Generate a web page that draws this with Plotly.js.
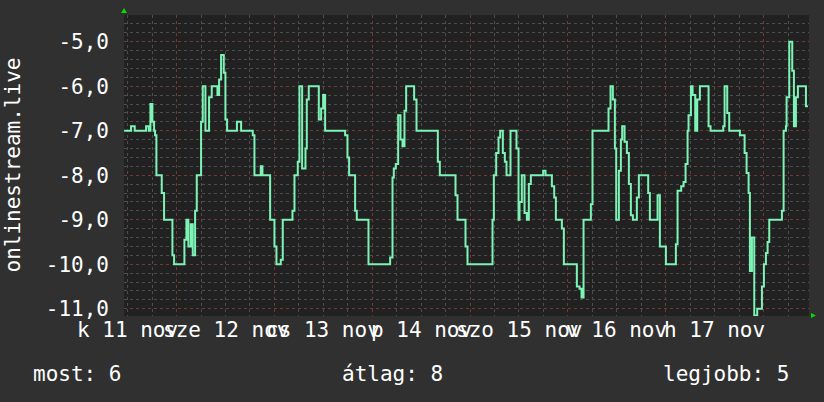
<!DOCTYPE html>
<html><head><meta charset="utf-8">
<script src="https://cdn.plot.ly/plotly-3.0.1.min.js"></script>
<style>html,body{margin:0;padding:0;background:#303030;}</style>
</head><body><div id="chart" style="width:824px;height:402px;"></div>
<script>
// hours since Nov 11 00:00
const hours = [11.12,12.83,13.73,16.52,17.17,17.58,18.07,18.48,18.72,19.05,20.36,20.93,22.98,23.39,25.92,26.41,26.90,27.48,27.97,28.54,28.95,30.01,30.42,31.08,31.97,32.63,34.02,34.43,34.92,35.58,35.98,36.39,38.8,39.83,42.69,43.10,44.65,45.06,46.95,48.01,48.50,49.56,50.05,52.43,52.92,53.73,54.14,54.80,55.62,55.94,56.43,58.89,59.46,59.95,60.44,65.35,65.92,66.33,67.80,68.21,71.08,76.39,76.97,77.29,77.78,78.36,78.93,79.42,79.91,80.32,82.28,82.86,88.09,88.58,92.43,92.92,94.88,95.37,101.51,101.83,102.41,102.98,103.39,104.04,104.53,104.94,105.92,107.39,107.89,108.13,108.70,109.36,109.93,110.42,110.91,113.94,114.51,116.07,116.64,117.05,118.52,119.01,122.20,122.86,123.35,123.84,125.64,126.04,129.97,130.46,131.03,131.53,131.85,132.51,133.00,133.32,133.90,134.47,134.96,135.45,135.94,136.92,137.41,139.70,140.11,142.00,142.57,144.04,146.49,146.90,147.80,148.38,148.87,149.36,149.60,150.18,150.59,151.24,151.73,152.38,154.51,155.00,158.11,158.44,159.09,159.58,162.20,163.35,163.84,164.33,164.65,165.15,165.72,166.45,167.60,168.09,168.58,168.99,169.40,172.51,172.92,173.49,173.65,174.31,175.04,175.45,175.94,176.43,178.40,178.89];
const values = [-7,-6.9,-7,-6.9,-7,-6.4,-6.8,-7,-7.1,-8,-8.4,-9,-9.8,-10,-9.45,-9,-9.6,-9.1,-9.8,-8.8,-8,-6.8,-6,-7,-6.25,-6,-6.2,-5.85,-5.3,-5.7,-6.75,-7,-6.8,-7,-7.1,-8,-7.8,-8,-9,-9.6,-10,-9.9,-9,-8.8,-8,-7.7,-6,-7.85,-7.4,-6.3,-6,-6.75,-6.5,-6.2,-7,-7.1,-7.6,-8,-8.8,-9,-10,-9.85,-8.05,-7.85,-7.75,-6.65,-7.2,-7.35,-6.55,-6,-6.3,-7,-7.7,-8,-8.45,-9,-9.6,-10,-9,-8,-7.5,-7.15,-7,-7.5,-7.7,-8,-7,-7.4,-9,-8.6,-8,-8.85,-9,-8.2,-8,-7.9,-8,-8.25,-8.5,-9,-9.2,-10,-10.5,-10.55,-10.75,-9,-8.65,-7,-6.5,-6,-6.3,-7.4,-9,-7.9,-7.2,-6.9,-7.25,-7.5,-8.2,-8.9,-9,-8.5,-8,-8.4,-9,-8.45,-9.6,-10,-9.55,-8.35,-8.25,-8.15,-7.75,-7,-6.65,-6,-6.2,-7,-6.3,-6,-6.9,-7,-6.9,-6,-6.6,-7,-7.1,-7.5,-7.95,-8.4,-10.15,-9.4,-11.15,-11,-10.5,-10,-9.75,-9.5,-9,-8.8,-7,-6.9,-6.25,-5,-5.65,-6.9,-6.25,-6,-6.45,-6.45];

const dayTicks = [12,36,60,84,108,132,156];
const dayLabels = ['k 11 nov','sze 12 nov','cs 13 nov','p 14 nov','szo 15 nov','v 16 nov','h 17 nov'];
const yTicks = [-5,-6,-7,-8,-9,-10,-11];
const yLabels = ['-5,0','-6,0','-7,0','-8,0','-9,0','-10,0','-11,0'];
const seriesName = 'onlinestream.live';
const statNames = ['most: 6','átlag: 8','legjobb: 5'];

const FONT = 'DejaVu Sans Mono, monospace';
const FS = 21;
const xRange = [11.1, 179.15];
const majorGrid = '#733838';
const minorGrid = '#4d4d4d';

const trace = {
  x: hours, y: values, type: 'scatter', mode: 'lines',
  line: {shape: 'hv', color: '#7df4b6', width: 2},
  hoverinfo: 'skip', showlegend: false
};

const plotW = 685, plotL = 124, plotH = 301;
const px = p => (p - plotL) / plotW;
const txt = (s, x, anchor) => ({text: s, xref: 'paper', yref: 'paper', x: px(x), y: -58/plotH,
  xanchor: anchor, yanchor: 'middle', showarrow: false, font: {family: FONT, size: FS, color: '#fff'}});

const annotations = [
  {text: seriesName, xref: 'paper', yref: 'paper', x: px(12), y: 0.5, textangle: -90,
   showarrow: false, xanchor: 'center', yanchor: 'middle', font: {family: FONT, size: FS, color: '#fff'}},
  txt(statNames[0], 31, 'left'),
  txt(statNames[1], 340, 'left'),
  txt(statNames[2], 661, 'left')
];
dayTicks.forEach((t, i) => annotations.push({
  text: dayLabels[i], xref: 'x', yref: 'paper', x: t, y: -14/plotH,
  xanchor: 'center', yanchor: 'middle', showarrow: false,
  font: {family: FONT, size: FS, color: '#fff'}
}));

const layout = {
  width: 824, height: 402,
  margin: {l: 124, r: 15, t: 15, b: 86},
  paper_bgcolor: '#303030', plot_bgcolor: '#212121',
  font: {family: FONT, color: '#ffffff', size: FS},
  showlegend: false,
  xaxis: {
    range: xRange, tickmode: 'linear', tick0: 0, dtick: 24,
    showticklabels: false, ticks: '', zeroline: false, showline: false,
    showgrid: true, gridcolor: majorGrid, griddash: 'dot', gridwidth: 1,
    minor: {tickmode: 'linear', tick0: 0, dtick: 6, showgrid: true, gridcolor: minorGrid, griddash: 'dot', gridwidth: 1, ticks: ''}
  },
  yaxis: {
    range: [-11.164, -4.40], tickmode: 'array', tickvals: yTicks, ticktext: yLabels,
    ticks: '', zeroline: false, showline: false,
    showgrid: true, gridcolor: majorGrid, griddash: 'dot', gridwidth: 1,
    tickfont: {family: FONT, size: FS, color: '#ffffff'}, ticklabelstandoff: 14,
    minor: {tickmode: 'linear', tick0: 0, dtick: 0.2, showgrid: true, gridcolor: minorGrid, griddash: 'dot', gridwidth: 1, ticks: ''}
  },
  annotations: annotations,
  shapes: [
    {type: 'path', xref: 'paper', yref: 'paper', path: `M ${px(121)} ${1+2/plotH} L ${px(127)} ${1+2/plotH} L ${px(124)} ${1+7/plotH} Z`, fillcolor: '#00dd00', line: {width: 0}},
    {type: 'path', xref: 'paper', yref: 'paper', path: `M ${px(811)} ${3/plotH} L ${px(811)} ${-2/plotH} L ${px(816)} ${0.5/plotH} Z`, fillcolor: '#00dd00', line: {width: 0}}
  ]
};

Plotly.newPlot('chart', [trace], layout, {staticPlot: true, displayModeBar: false});
</script>
</body></html>
